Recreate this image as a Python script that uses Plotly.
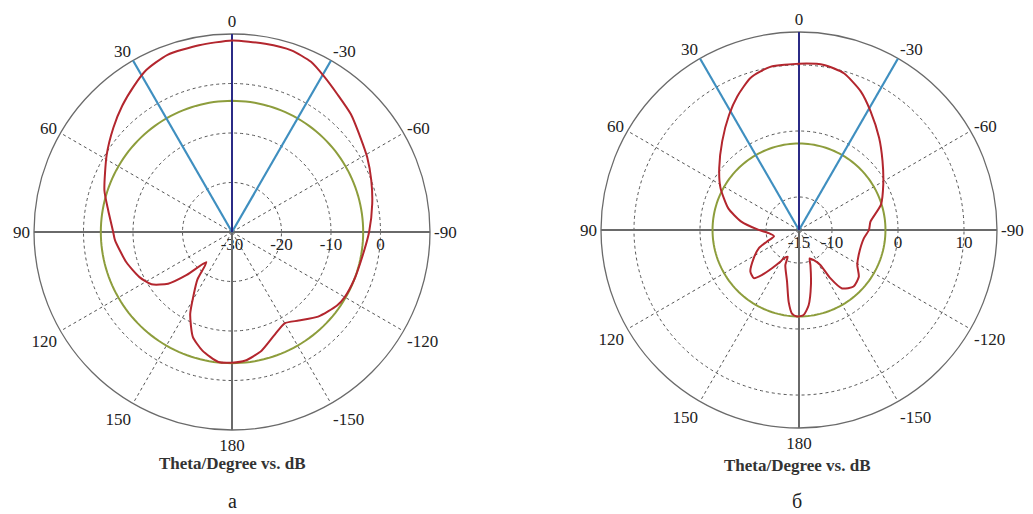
import numpy as np
import plotly.graph_objects as go

# ---- pattern (a): theta in degrees, gain in dB ----
theta_a = [0, 10, 20, 28, 34, 41, 48.7, 58.5, 72, 80, 90, 94, 106, 116, 123, 129,
           133.5, 139.7, 144, 148.5, 153, 159.5, 166, 174, 180,
           -174, -166, -158, -150, -143, -134.5, -125, -120, -111, -100.5, -90,
           -78.6, -69.7, -61.1, -53.7, -45.3, -37.6, -30.7, -24.9, -18.1, -10, 0]
gain_a = [8.7, 8.3, 8.1, 7.0, 5.5, 3.8, 1.9, -0.3, -2.9, -4.6, -6.0, -6.3, -7.8, -9.2, -10.6, -13.4,
          -17.4, -22.0, -18.1, -15.2, -11.4, -7.4, -5.3, -3.6, -3.6,
          -3.9, -5.3, -7.4, -8.7, -7.6, -5.6, -4.1, -3.7, -3.5, -3.2, -2.3,
          -1.1, 0.0, 1.2, 2.2, 3.8, 5.0, 6.5, 7.9, 8.6, 8.6, 8.7]

# ---- pattern (б) ----
theta_b = [0, 10, 17.6, 24.8, 31.3, 40.8, 52.2, 61.8, 73, 81.5, 89.5, 96, 104, 110, 114.4,
           122, 130.6, 136.8, 140.6, 144.8, 149.5, 151.6, 157, 158.7, 166.9, 171.8, 175.2, 178.7,
           -176.9, -172.7, -167.7, -162, -159.4, -153.9, -148.6, -147, -143.6, -136, -128, -121,
           -112.7, -97.3, -90, -83.3, -72.8, -61.7, -50.5, -41, -31.1, -24, -16, -8.6, 0]
gain_b = [10.2, 10.1, 9.2, 7.3, 5.4, 2.8, 0.3, -1.5, -3.8, -6.1, -8.8, -10.4, -11.1, -9.8, -8.3,
          -6.9, -5.3, -5.0, -6.2, -7.9, -9.4, -10.1, -10.6, -9.3, -7.0, -4.0, -2.3, -1.9,
          -2.1, -3.5, -6.5, -9.4, -10.4, -9.9, -8.8, -6.3, -4.0, -3.1, -3.5, -4.7,
          -5.2, -5.1, -4.4, -4.1, -2.0, -0.5, 1.4, 3.5, 6.0, 8.0, 9.7, 10.3, 10.2]

# reference levels and axis setup
ref_level_a = -3.5
ref_level_b = -1.9
range_a = [-30, 10]
range_b = [-15, 15]
rticks_a = [-30, -20, -10, 0]
rticks_b = [-15, -10, 0, 10]
beam_edges = [30, -30]
axis_spokes = [90, -90, 180]

ang_vals = list(range(0, 360, 30))
ang_text = ["0", "30", "60", "90", "120", "150", "180", "-150", "-120", "-90", "-60", "-30"]

RED = "#b3262e"
GREEN = "#8d9d3c"
BLUE = "#3f8fc0"
NAVY = "#2b2b86"
GREY = "#6a6a6a"
FONT = "Liberation Serif"

fig = go.Figure()


def add_pattern(subplot, rng, theta, gain, ref_level):
    lo, hi = rng
    # solid axis cross
    for a in axis_spokes:
        fig.add_trace(go.Scatterpolar(r=[lo, hi], theta=[a, a], mode="lines",
                                      line=dict(color=GREY, width=2), subplot=subplot,
                                      hoverinfo="skip"))
    # reference circle
    circ = np.arange(0, 361, 2)
    fig.add_trace(go.Scatterpolar(r=[ref_level] * len(circ), theta=circ, mode="lines",
                                  line=dict(color=GREEN, width=2), subplot=subplot,
                                  hoverinfo="skip"))
    # beam edges and boresight
    for a in beam_edges:
        fig.add_trace(go.Scatterpolar(r=[lo, hi], theta=[a, a], mode="lines",
                                      line=dict(color=BLUE, width=2.2), subplot=subplot,
                                      hoverinfo="skip"))
    fig.add_trace(go.Scatterpolar(r=[lo, hi], theta=[0, 0], mode="lines",
                                  line=dict(color=NAVY, width=2), subplot=subplot,
                                  hoverinfo="skip"))
    # measured pattern
    fig.add_trace(go.Scatterpolar(r=gain, theta=theta, mode="lines",
                                  line=dict(color=RED, width=2, shape="spline", smoothing=0.6),
                                  subplot=subplot))


add_pattern("polar", range_a, theta_a, gain_a, ref_level_a)
add_pattern("polar2", range_b, theta_b, gain_b, ref_level_b)


def polar_layout(domain_x, domain_y, rng, rticks):
    return dict(
        domain=dict(x=domain_x, y=domain_y),
        bgcolor="white",
        angularaxis=dict(rotation=90, direction="counterclockwise",
                         tickmode="array", tickvals=ang_vals, ticktext=ang_text,
                         showline=True, linecolor=GREY, linewidth=1.3,
                         showgrid=True, gridcolor="#555555", gridwidth=1.1, griddash="dot",
                         layer="below traces",
                         ticks="", tickfont=dict(family=FONT, size=17, color="#222222")),
        radialaxis=dict(range=rng, angle=0, side="clockwise",
                        tickmode="array", tickvals=rticks,
                        ticktext=[str(v) for v in rticks],
                        showline=False, ticks="",
                        showgrid=True, gridcolor="#555555", gridwidth=1.1, griddash="dot",
                        layer="below traces",
                        tickfont=dict(family=FONT, size=17, color="#222222")),
    )


W, H = 1033, 514
fig.update_layout(
    width=W, height=H,
    margin=dict(l=0, r=0, t=0, b=0),
    paper_bgcolor="white",
    showlegend=False,
    polar=polar_layout([34 / W, 430 / W], [84 / H, 480 / H], range_a, rticks_a),
    polar2=polar_layout([601 / W, 997 / W], [86 / H, 482 / H], range_b, rticks_b),
)

for xc, ytitle, tag in [(232, 463, "а"), (797, 465, "б")]:
    fig.add_annotation(x=xc / W, y=1 - ytitle / H, xref="paper", yref="paper",
                       xanchor="center", yanchor="middle",
                       text="<b>Theta/Degree vs. dB</b>", showarrow=False,
                       font=dict(family=FONT, size=17, color="#333333"))
    fig.add_annotation(x=xc / W, y=1 - 501 / H, xref="paper", yref="paper",
                       xanchor="center", yanchor="middle",
                       text=tag, showarrow=False,
                       font=dict(family=FONT, size=20, color="#222222"))

fig.write_html("out.html")
